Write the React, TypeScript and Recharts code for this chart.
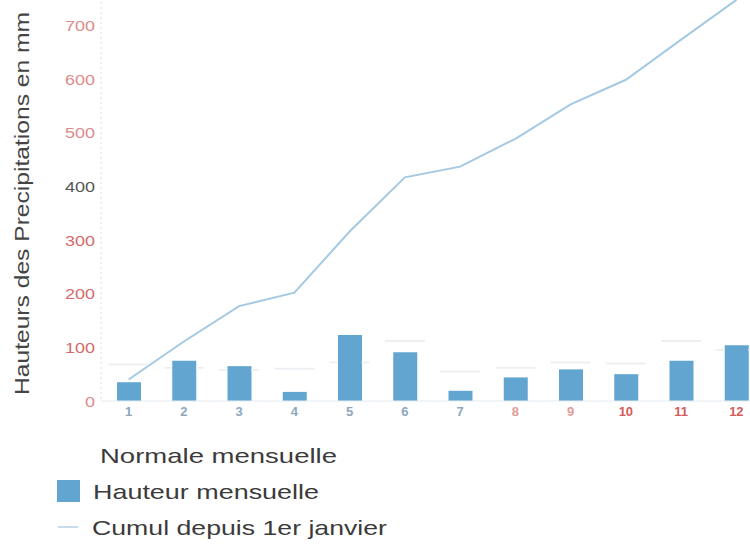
import React from 'react'
import {
  ComposedChart,
  Bar,
  Line,
  Scatter,
  XAxis,
  YAxis,
  Legend,
} from 'recharts'

// valeurs (mm)
const MONTHS = ['1', '2', '3', '4', '5', '6', '7', '8', '9', '10', '11', '12']
const HAUTEUR = [35, 75, 65, 17, 123, 91, 19, 44, 59, 50, 75, 104]
const CUMUL = [40, 111, 177, 202, 316, 417, 437, 489, 553, 599, 674, 748]
const NORMALE = [68, 62, 58, 60, 72, 112, 55, 62, 72, 70, 112, 95]
const Y_TICKS = [0, 100, 200, 300, 400, 500, 600, 700]

const data = MONTHS.map((m, i) => ({
  mois: m,
  hauteur: HAUTEUR[i],
  cumul: CUMUL[i],
  normale: NORMALE[i],
}))

const FONT = '"Liberation Sans", Arial, sans-serif'
const BAR_COLOR = '#62a5d0'
const LINE_COLOR = '#a3c9e3'
const BAR_SIZE = 24

function yTickColor(v: number) {
  if (v === 400) return '#555555'
  if (v >= 100 && v <= 300) return '#d46a6a'
  return '#dc8c8c'
}

function xTickColor(i: number) {
  if (i >= 9) return '#d65a5a'
  if (i >= 7) return '#e29a9a'
  return '#8fa6bd'
}

const YTick = (props: any) => {
  const { x, y, payload } = props
  const label = String(payload.value)
  return (
    <text
      x={x}
      y={y}
      textAnchor="end"
      dominantBaseline="central"
      fontFamily={FONT}
      fontSize={15}
      fill={yTickColor(payload.value)}
      textLength={label.length * 10}
      lengthAdjust="spacingAndGlyphs"
    >
      {label}
    </text>
  )
}

const XTick = (props: any) => {
  const { x, y, payload, index } = props
  return (
    <text
      x={x}
      y={y}
      dy="0.71em"
      textAnchor="middle"
      fontFamily={FONT}
      fontSize={13}
      fontWeight="bold"
      fill={xTickColor(index)}
    >
      {payload.value}
    </text>
  )
}

const YTitle = (props: any) => {
  const vb = props.viewBox || { x: 0, y: 12, width: 101, height: 429 }
  const cx = vb.x + 21
  const cy = vb.y + vb.height - 197.5
  return (
    <text
      x={cx}
      y={cy}
      transform={`rotate(-90, ${cx}, ${cy})`}
      textAnchor="middle"
      dominantBaseline="central"
      fontFamily={FONT}
      fontSize={21}
      fill="#444444"
      textLength={383}
      lengthAdjust="spacingAndGlyphs"
    >
      Hauteurs des Precipitations en mm
    </text>
  )
}

// petit trait horizontal pour la normale (masqué derrière la barre)
const NormaleMark = (props: any) => {
  const { cx, cy, payload } = props
  if (cx == null || cy == null) return null
  const half = BAR_SIZE / 2
  const hidden = payload && payload.hauteur >= payload.normale
  if (hidden) {
    return (
      <g stroke="#edf0f3" strokeWidth={2}>
        <line x1={cx - 20} x2={cx - half} y1={cy} y2={cy} />
        <line x1={cx + half} x2={cx + 20} y1={cy} y2={cy} />
      </g>
    )
  }
  return <line x1={cx - 20} x2={cx + 20} y1={cy} y2={cy} stroke="#edf0f3" strokeWidth={2} />
}

const LegendBox = () => {
  const txt = {
    fontFamily: FONT,
    fontSize: 21,
    fill: '#3b3b3b',
    dominantBaseline: 'central' as const,
    lengthAdjust: 'spacingAndGlyphs' as const,
  }
  return (
    <svg width={420} height={110} style={{ display: 'block' }}>
      <text x={100} y={18} textLength={237} {...txt}>
        Normale mensuelle
      </text>
      <rect x={57} y={43} width={23} height={22} fill={BAR_COLOR} />
      <text x={93} y={54} textLength={226} {...txt}>
        Hauteur mensuelle
      </text>
      <line x1={58} x2={78} y1={90} y2={90} stroke="#c6dcec" strokeWidth={2} />
      <text x={92} y={90} textLength={295} {...txt}>
        Cumul depuis 1er janvier
      </text>
    </svg>
  )
}

export default function App() {
  return (
    <div
      style={{
        position: 'absolute',
        top: 0,
        left: 0,
        width: 750,
        height: 547,
        overflow: 'hidden',
        background: '#ffffff',
      }}
    >
      <div style={{ position: 'absolute', top: -40, left: 0 }}>
        <ComposedChart
          width={766}
          height={600}
          data={data}
          margin={{ top: 12, right: 2, bottom: 129, left: 0 }}
        >
          <XAxis
            dataKey="mois"
            height={30}
            tickSize={0}
            tickMargin={6}
            tick={<XTick />}
            axisLine={{ stroke: '#e3eaf1' }}
            interval={0}
          />
          <YAxis
            width={101}
            domain={[0, 800]}
            ticks={Y_TICKS}
            tickSize={0}
            tickMargin={6}
            tick={<YTick />}
            axisLine={{ stroke: '#f1d6d6', strokeDasharray: '2 3' }}
            label={{ content: (p: any) => <YTitle {...p} /> }}
          />
          <Bar
            dataKey="hauteur"
            name="Hauteur mensuelle"
            fill={BAR_COLOR}
            barSize={BAR_SIZE}
            isAnimationActive={false}
          />
          <Scatter
            dataKey="normale"
            name="Normale mensuelle"
            shape={<NormaleMark />}
            isAnimationActive={false}
          />
          <Line
            type="linear"
            dataKey="cumul"
            name="Cumul depuis 1er janvier"
            stroke={LINE_COLOR}
            strokeWidth={2}
            dot={false}
            activeDot={false}
            isAnimationActive={false}
          />
          <Legend
            layout="vertical"
            align="center"
            verticalAlign="middle"
            wrapperStyle={{ top: 477, left: 0, width: 420, height: 110 }}
            content={() => <LegendBox />}
          />
        </ComposedChart>
      </div>
    </div>
  )
}
